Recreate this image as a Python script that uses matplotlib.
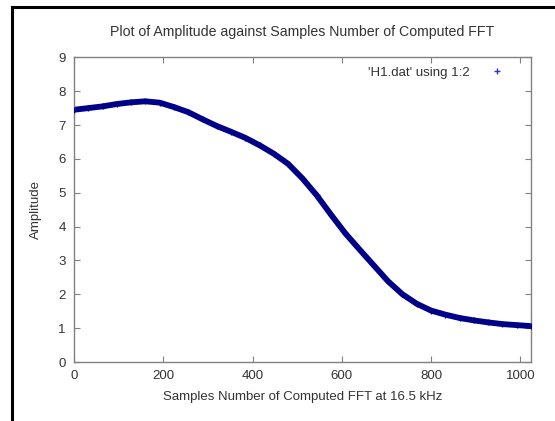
import numpy as np
import matplotlib.pyplot as plt
from matplotlib.lines import Line2D

plt.rcParams['font.family'] = ['Liberation Sans', 'DejaVu Sans']

# Amplitude, one value every 32 samples
samples = [0, 32, 64, 96, 128, 160, 192, 224, 256, 288, 320, 352, 384, 416, 448, 480,
           512, 544, 576, 608, 640, 672, 704, 736, 768, 800, 832, 864, 896, 928, 960,
           992, 1024]
amplitude = [7.45, 7.50, 7.55, 7.62, 7.67, 7.70, 7.66, 7.53, 7.38, 7.17, 6.97, 6.80,
             6.62, 6.40, 6.15, 5.85, 5.42, 4.92, 4.35, 3.80, 3.32, 2.85, 2.38, 2.00,
             1.72, 1.52, 1.40, 1.30, 1.23, 1.17, 1.12, 1.09, 1.06]
xticks = [0, 200, 400, 600, 800, 1000]
yticks = list(range(0, 10))

TEXT = '#333333'
FRAME = '#808080'
DATA = '#000088'

fig = plt.figure(figsize=(5.55, 4.21), dpi=100)
ax = fig.add_axes([0.1333, 0.1401, 0.8235, 0.7238])

# thick band + small crosses, like gnuplot's "with points"
ax.plot(samples, amplitude, color=DATA, lw=4.2, solid_capstyle='butt', zorder=2)
ax.plot(samples, amplitude, ls='none', marker='+', ms=5, mew=1.0, color=DATA, zorder=3)

ax.set_xlim(0, 1024)
ax.set_ylim(0, 9)
ax.set_xticks(xticks)
ax.set_yticks(yticks)
ax.tick_params(direction='in', length=4, width=0.8, color=FRAME,
               top=True, right=True, labelsize=9.5, labelcolor=TEXT, pad=6)
for s in ax.spines.values():
    s.set_color(FRAME)
    s.set_linewidth(1.0)

ax.set_title('Plot of Amplitude against Samples Number of Computed FFT',
             fontsize=10.2, color=TEXT, pad=15)
ax.set_xlabel('Samples Number of Computed FFT at 16.5 kHz', fontsize=9.5, color=TEXT, labelpad=6)
ax.set_ylabel('Amplitude', fontsize=9.5, color=TEXT, labelpad=12)

key = Line2D([], [], ls='none', marker='+', ms=5, mew=1, color='#3333bb')
ax.legend([key], ["'H1.dat' using 1:2"], loc='upper right', frameon=False,
          markerfirst=False, fontsize=9.5, labelcolor=TEXT, handletextpad=1.1,
          borderaxespad=0.3, bbox_to_anchor=(0.975, 1.0))

# black frame on the left and top of the picture
fig.add_artist(Line2D([12 / 555, 12 / 555], [0, 1 - 7 / 421], transform=fig.transFigure,
                      color='black', lw=2.2, solid_capstyle='projecting'))
fig.add_artist(Line2D([12 / 555, 1], [1 - 7 / 421, 1 - 7 / 421], transform=fig.transFigure,
                      color='black', lw=2.2, solid_capstyle='projecting'))

fig.savefig('out.png', dpi=100)
